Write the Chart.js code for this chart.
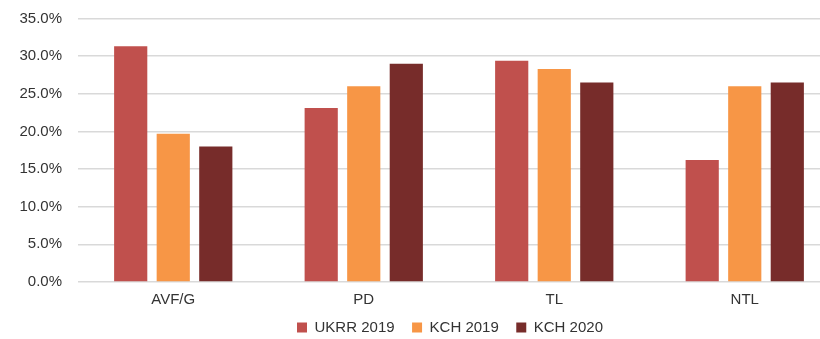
<!DOCTYPE html>
<html>
<head>
<meta charset="utf-8">
<script src="https://cdn.jsdelivr.net/npm/chart.js@4"></script>
<style>
    body { margin: 0; background: #fff; overflow: hidden; }
    #wrap { width: 820px; height: 339px; overflow: hidden; }
</style>
</head>
<body>
<!-- the original plot runs past the right edge of the picture, so the canvas is wider and cropped -->
<div id="wrap"><canvas id="chart" width="840" height="339"></canvas></div>
<script>
const categories = ["AVF/G", "PD", "TL", "NTL"];
const ukrr2019 = [31.3, 23.1, 29.4, 16.2];
const kch2019 = [19.7, 26.0, 28.3, 26.0];
const kch2020 = [18.0, 29.0, 26.5, 26.5];

const fontFamily = "'Liberation Sans', Arial, sans-serif";
const textColor = "#333333";

// nudge the legend: right of canvas centre and a little lower
const legendShift = {
    id: "legendShift",
    afterLayout(chart) {
        chart.legend.left += 30;
        chart.legend.right += 30;
        chart.legend.top += 6;
        chart.legend.bottom += 6;
    }
};

const ctx = document.getElementById("chart").getContext("2d");
const chart = new Chart(ctx, {
    type: "bar",
    data: {
        labels: categories,
        datasets: [
            { label: "UKRR 2019", data: ukrr2019, backgroundColor: "#C0504D" },
            { label: "KCH 2019", data: kch2019, backgroundColor: "#F79646" },
            { label: "KCH 2020", data: kch2020, backgroundColor: "#772C2A" }
        ]
    },
    options: {
        responsive: false,
        animation: false,
        layout: { padding: { top: 18.5, right: 0, bottom: 0, left: 0 } },
        datasets: {
            bar: { categoryPercentage: 0.67, barPercentage: 0.78, borderWidth: 0 }
        },
        scales: {
            x: {
                afterFit: (scale) => { scale.height = 27; },
                grid: { display: false },
                border: { display: false },
                ticks: { color: textColor, font: { family: fontFamily, size: 15 }, padding: 1 }
            },
            y: {
                min: 0,
                max: 35,
                afterFit: (scale) => { scale.width = 78; },
                ticks: {
                    stepSize: 5,
                    color: textColor,
                    font: { family: fontFamily, size: 15 },
                    padding: 3,
                    callback: (v) => v.toFixed(1) + "%"
                },
                grid: { color: "#d9d9d9", lineWidth: 1.5, tickLength: 13, tickColor: "rgba(0,0,0,0)" },
                border: { display: false }
            }
        },
        plugins: {
            legend: {
                position: "bottom",
                labels: {
                    color: textColor,
                    font: { family: fontFamily, size: 15 },
                    boxWidth: 10,
                    boxHeight: 10,
                    padding: 5,
                    generateLabels: (chart) => {
                        const items = Chart.defaults.plugins.legend.labels.generateLabels(chart);
                        items.forEach((item, i) => {
                            if (i < items.length - 1) item.text += "   ";
                        });
                        return items;
                    }
                }
            },
            tooltip: { enabled: false }
        }
    },
    plugins: [legendShift]
});
</script>
</body>
</html>
